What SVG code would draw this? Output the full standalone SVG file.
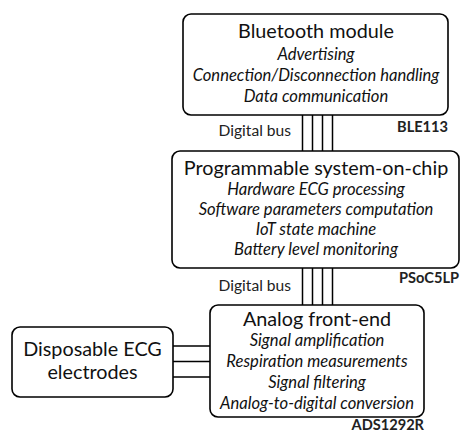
<svg xmlns="http://www.w3.org/2000/svg" width="463" height="433" viewBox="0 0 463 433">
<style>
.box{fill:#fff;stroke:#000;stroke-width:1.6}
.t{font-family:Lato,"Noto Sans",sans-serif;font-size:19.8px;text-anchor:middle;fill:#111}
.i{font-family:Lato,"Noto Sans",sans-serif;font-size:16.6px;font-style:italic;text-anchor:middle;fill:#111}
.l{font-family:Lato,"Noto Sans",sans-serif;font-size:15.6px;text-anchor:end;fill:#222}
.b{font-family:Lato,"Noto Sans",sans-serif;font-size:14.6px;font-weight:bold;text-anchor:end;fill:#222}
.w{stroke:#000;stroke-width:1.5;fill:none}
</style>
<rect width="463" height="433" fill="#fff"/>
<g id="connectors">
<path class="w" d="M302.5 115V151M312.5 115V151M322.5 115V151M332.5 115V151"/>
<path class="w" d="M302.5 268V305M312.5 268V305M322.5 268V305M332.5 268V305"/>
<path class="w" d="M173 346H210M173 361.5H210M173 377H210"/>
<text class="l" x="291" y="136">Digital bus</text>
<text class="l" x="291" y="291">Digital bus</text>
</g>
<g id="ble">
<rect class="box" x="183" y="14" width="265" height="101" rx="8"/>
<text class="t" x="316" y="38">Bluetooth module</text>
<text class="i" x="316" y="60">Advertising</text>
<text class="i" x="316" y="81">Connection/Disconnection handling</text>
<text class="i" x="316" y="102">Data communication</text>
<text class="b" x="448" y="132">BLE113</text>
</g>
<g id="psoc">
<rect class="box" x="172" y="151" width="287" height="117" rx="8"/>
<text class="t" x="316" y="175">Programmable system-on-chip</text>
<text class="i" x="316" y="195">Hardware ECG processing</text>
<text class="i" x="316" y="215">Software parameters computation</text>
<text class="i" x="316" y="235">IoT state machine</text>
<text class="i" x="316" y="255">Battery level monitoring</text>
<text class="b" x="459" y="283">PSoC5LP</text>
</g>
<g id="afe">
<rect class="box" x="210" y="305" width="214" height="112" rx="8"/>
<text class="t" x="317" y="326">Analog front-end</text>
<text class="i" x="317" y="346">Signal amplification</text>
<text class="i" x="317" y="367">Respiration measurements</text>
<text class="i" x="317" y="388">Signal filtering</text>
<text class="i" x="317" y="409">Analog-to-digital conversion</text>
<text class="b" x="424" y="430">ADS1292R</text>
</g>
<g id="electrodes">
<rect class="box" x="12" y="327" width="161" height="70" rx="8"/>
<text class="t" x="92.5" y="356">Disposable ECG</text>
<text class="t" x="92.5" y="379">electrodes</text>
</g>
</svg>
